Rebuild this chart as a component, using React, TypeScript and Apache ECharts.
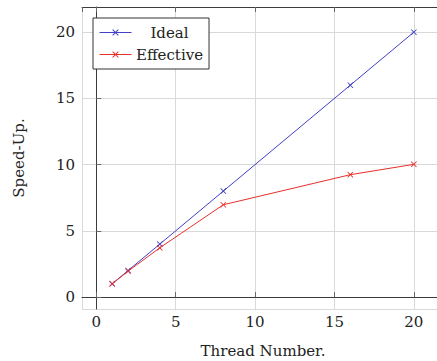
import React, { useEffect, useRef } from "react";
import * as echarts from "echarts";

// Speed-up measured against the number of threads
const threads = [1, 2, 4, 8, 16, 20];
const idealSpeedUp = [1, 2, 4, 8, 16, 20];
const effectiveSpeedUp = [1, 1.95, 3.72, 6.97, 9.24, 10.02];
const seriesNames = ["Ideal", "Effective"];

const FONT = "DejaVu Serif";
const CROSS = "path://M0,1L1,0L5,4L9,0L10,1L6,5L10,9L9,10L5,6L1,10L0,9L4,5Z";

const pairs = (xs: number[], ys: number[]) => xs.map((x, i) => [x, ys[i]]);

export default function App() {
  const ref = useRef<HTMLDivElement>(null);

  useEffect(() => {
    if (!ref.current) return;
    const chart = echarts.init(ref.current, undefined, { renderer: "svg" });
    const axisLine = { show: true, lineStyle: { color: "#3c3c3c", width: 1 } };
    const tick = { show: true, inside: true, length: 5, lineStyle: { color: "#6a6a6a", width: 1 } };
    const label = { color: "#222", fontFamily: FONT, fontSize: 15 };
    chart.setOption({
      animation: false,
      backgroundColor: "#fff",
      grid: { left: 82, top: 7, width: 362, height: 302, containLabel: false, outerBoundsMode: "none" },
      legend: {
        left: 93,
        top: 18,
        orient: "vertical",
        padding: [6, 6, 6, 6],
        itemWidth: 32,
        itemHeight: 8,
        itemGap: 5,
        borderColor: "#333",
        borderWidth: 1,
        backgroundColor: "#fff",
        lineStyle: { width: 1 },
        data: seriesNames,
        formatter: (name: string) => `{t|${name}}`,
        textStyle: {
          fontFamily: FONT,
          fontSize: 15,
          lineHeight: 17,
          rich: {
            t: { width: 66, height: 17, align: "center", fontFamily: FONT, fontSize: 15, lineHeight: 17, color: "#222" },
          },
        },
      },
      xAxis: [
        {
          type: "value",
          position: "bottom",
          min: -0.9,
          max: 21.9,
          name: "Thread Number.",
          nameLocation: "middle",
          nameGap: 34,
          nameTextStyle: { ...label },
          axisLine,
          axisTick: tick,
          axisLabel: { ...label, margin: 5, showMinLabel: false, showMaxLabel: false },
          splitLine: { show: true, lineStyle: { color: "#d9d9d9", width: 1 } },
        },
        {
          type: "value",
          position: "top",
          min: -0.9,
          max: 21.9,
          axisLine,
          axisTick: tick,
          axisLabel: { show: false },
          splitLine: { show: false },
        },
      ],
      yAxis: {
        type: "value",
        min: -0.9,
        max: 21.9,
        name: "Speed-Up.",
        nameLocation: "middle",
        nameGap: 56,
        nameTextStyle: { ...label },
        axisLine,
        axisTick: tick,
        axisLabel: { ...label, margin: 7, showMinLabel: false, showMaxLabel: false },
        splitLine: { show: true, lineStyle: { color: "#d9d9d9", width: 1 } },
      },
      series: [
        {
          name: seriesNames[0],
          type: "line",
          data: pairs(threads, idealSpeedUp),
          symbol: CROSS,
          symbolSize: 6,
          color: "#4040c8",
          itemStyle: { color: "#4040c8" },
          lineStyle: { color: "#4040c8", width: 1 },
          z: 3,
        },
        {
          name: seriesNames[1],
          type: "line",
          data: pairs(threads, effectiveSpeedUp),
          symbol: CROSS,
          symbolSize: 6,
          color: "#e8302a",
          itemStyle: { color: "#e8302a" },
          lineStyle: { color: "#e8302a", width: 1 },
          z: 4,
        },
      ],
    });
    return () => chart.dispose();
  }, []);

  return (
    <div
      ref={ref}
      style={{ position: "fixed", left: 0, top: 0, width: 437, height: 361, overflow: "hidden" }}
    />
  );
}
